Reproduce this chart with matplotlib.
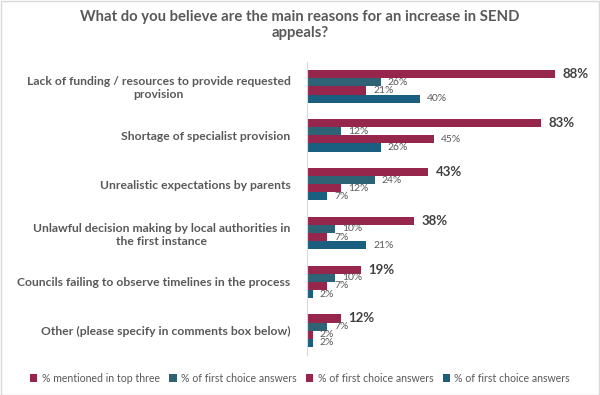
import numpy as np
import matplotlib.pyplot as plt

categories = [
    "Lack of funding / resources to provide requested\nprovision",
    "Shortage of specialist provision",
    "Unrealistic expectations by parents",
    "Unlawful decision making by local authorities in\nthe first instance",
    "Councils failing to observe timelines in the process",
    "Other (please specify in comments box below)",
]
top_three = [88, 83, 43, 38, 19, 12]
first_a = [26, 12, 24, 10, 10, 7]
first_b = [21, 45, 12, 7, 7, 2]
first_c = [40, 26, 7, 21, 2, 2]
series_names = ["% mentioned in top three", "% of first choice answers",
                "% of first choice answers", "% of first choice answers"]
colors = ["#97264C", "#2E6375", "#97264C", "#1A5E80"]

plt.rcParams['font.family'] = ['Lato', 'DejaVu Sans']
grey = "#595959"

fig = plt.figure(figsize=(6.0, 3.95), dpi=100)
ax = fig.add_axes([0.512, 0.101, 0.47, 0.742])

y = np.arange(len(categories))
h = 0.167
series = [top_three, first_a, first_b, first_c]
for i, (vals, c, name) in enumerate(zip(series, colors, series_names)):
    pos = y - 1.5 * h + i * h
    ax.barh(pos, vals, height=h, color=c, label=name)
    for p, v in zip(pos, vals):
        if i == 0:
            ax.text(v + 2.5, p, f"{v}%", va="center", ha="left",
                    fontsize=9.5, fontweight="bold", color="#404040")
        else:
            ax.text(v + 2.5, p, f"{v}%", va="center", ha="left",
                    fontsize=7.5, color=grey)

ax.set_xlim(0, 100)
ax.set_ylim(len(categories) - 0.5, -0.5)
ax.set_yticks(y)
ax.set_yticklabels(categories, fontsize=8.7, fontweight="bold", color=grey,
                   multialignment="center")
ax.tick_params(axis="y", length=0, pad=12)
ax.set_xticks([])
for s in ["top", "right", "bottom"]:
    ax.spines[s].set_visible(False)
ax.spines["left"].set_color("#D9D9D9")

fig.suptitle("What do you believe are the main reasons for an increase in SEND\nappeals?",
             fontsize=10.7, fontweight="bold", color=grey, y=0.975)

handles, labels = ax.get_legend_handles_labels()
fig.legend(handles, labels, loc="center", bbox_to_anchor=(0.5, 0.043), ncol=4,
           frameon=False, fontsize=7.6, handlelength=0.7, handleheight=0.7,
           handletextpad=0.4, columnspacing=0.9, labelcolor=grey)

fig.patches.append(plt.Rectangle((0.001, 0.001), 0.997, 0.997, transform=fig.transFigure,
                                 fill=False, edgecolor="#D9D9D9", linewidth=1))

fig.savefig("out.png", dpi=100)
